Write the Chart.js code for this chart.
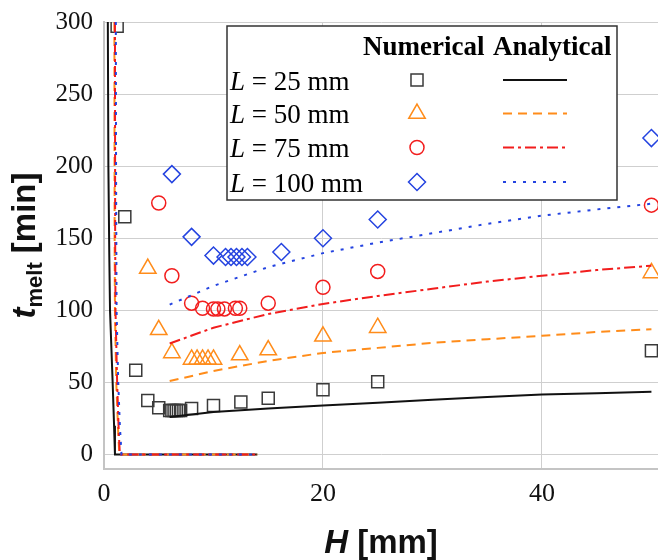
<!DOCTYPE html>
<html>
<head>
<meta charset="utf-8">
<script src="https://cdn.jsdelivr.net/npm/chart.js@4/dist/chart.umd.min.js"></script>
<style>
  html, body { margin: 0; padding: 0; background: #fff; }
  canvas { display: block; }
</style>
</head>
<body>
<canvas id="meltChart" width="658" height="560"></canvas>
<script>
// ==============================
// DATA
// ==============================
const xTicks = [0, 20, 40];
const yTicks = [0, 50, 100, 150, 200, 250, 300];

const lengthLabels = ["L = 25 mm", "L = 50 mm", "L = 75 mm", "L = 100 mm"];

// numerical results (markers)
const numH25 = [1.2, 1.9, 2.9, 4.0, 5.0, 6.0, 6.2, 6.4, 6.6, 6.8, 7.0, 8.0, 10, 12.5, 15, 20, 25, 50];
const numT25 = [297, 165, 58.5, 37.5, 32.5, 30.5, 30.5, 30.5, 30.5, 30.5, 30.5, 32, 34, 36.5, 39, 45, 50.5, 72];

const numH50 = [4.0, 5.0, 6.2, 8.0, 8.5, 9.0, 9.5, 10.0, 12.4, 15, 20, 25, 50];
const numT50 = [129, 86.5, 70.5, 66, 66, 66, 66, 66, 69, 72.5, 82, 88, 126];

const numH75 = [5.0, 6.2, 8.0, 9.0, 10.0, 10.4, 11.0, 12.0, 12.4, 15, 20, 25, 50];
const numT75 = [174.5, 124, 105, 101.5, 101, 101, 101, 101.5, 101.5, 105, 116, 127, 173];

const numH100 = [6.2, 8.0, 10.0, 11.1, 11.6, 12.1, 12.6, 13.1, 16.2, 20, 25, 50];
const numT100 = [194.5, 151, 138, 137, 137, 137, 137, 137, 140.5, 150, 163, 219.5];

// analytical results, part near the wall (steep drop to zero)
const wallH25 = [0.35, 0.4, 0.48, 0.55, 0.79, 0.92, 1.0, 14];
const wallT25 = [300, 200, 140, 100, 50, 20, 0, 0];
const wallH50 = [0.95, 0.97, 1.0, 1.12, 1.3, 1.4, 14];
const wallT50 = [300, 150, 100, 50, 15, 0, 0];
const wallH75 = [1.0, 1.02, 1.05, 1.2, 1.35, 1.45, 14];
const wallT75 = [300, 150, 100, 50, 15, 0, 0];
const wallH100 = [1.08, 1.1, 1.15, 1.3, 1.45, 1.6, 14];
const wallT100 = [300, 200, 100, 50, 20, 0, 0];

// analytical results, main branch
const curveH = [6, 10, 15, 20, 25, 30, 35, 40, 45, 50];
const curveT25 = [26, 29.5, 32, 34, 36, 38, 40, 41.6, 42.5, 43.5];
const curveT50 = [51, 58, 65, 70.5, 74, 77.5, 80, 82.4, 85, 87];
const curveT75 = [77, 88, 97.5, 104.5, 110, 115, 120, 124, 128, 131];
const curveT100 = [104, 117, 130, 139.7, 147, 153.5, 160, 165.7, 170, 174];

// ==============================
// STYLES
// ==============================
const colors = ["#3a3a3a", "#ff8c1a", "#f21d1d", "#2443e0"];
const lineColors = ["#111111", "#ff8c1a", "#f21d1d", "#2443e0"];
const markerStyles = ["rect", "triangle", "circle", "rectRot"];
const markerRadius = [8.5, 9.5, 7, 8.5];
const dashes = [[], [9, 6], [11, 4, 3, 4], [3, 7]];

const toPoints = (xs, ys) => xs.map((x, i) => ({ x: x, y: ys[i] }));

const numSets = [[numH25, numT25], [numH50, numT50], [numH75, numT75], [numH100, numT100]];
const wallSets = [[wallH25, wallT25], [wallH50, wallT50], [wallH75, wallT75], [wallH100, wallT100]];
const curveSets = [curveT25, curveT50, curveT75, curveT100];

const datasets = [];

// lines first so markers sit on top
for (let i = 3; i >= 0; i--) {
    const lineStyle = {
        showLine: true,
        pointRadius: 0,
        borderColor: lineColors[i],
        borderWidth: 2,
        borderDash: dashes[i],
        tension: 0,
        fill: false
    };
    datasets.push(Object.assign({ data: toPoints(wallSets[i][0], wallSets[i][1]) }, lineStyle));
    datasets.push(Object.assign({ data: toPoints(curveH, curveSets[i]) }, lineStyle));
}

for (let i = 0; i < 4; i++) {
    datasets.push({
        data: toPoints(numSets[i][0], numSets[i][1]),
        showLine: false,
        pointStyle: markerStyles[i],
        pointRadius: markerRadius[i],
        pointBorderWidth: 1.5,
        pointBorderColor: colors[i],
        pointBackgroundColor: "rgba(0,0,0,0)"
    });
}

// ==============================
// TITLES + TABLE LEGEND
// ==============================
const decorations = {
    id: "decorations",
    afterDraw(chart) {
        const ctx = chart.ctx;
        const area = chart.chartArea;
        ctx.save();
        ctx.fillStyle = "#111";
        ctx.textBaseline = "alphabetic";

        // x title: H [mm]
        const fIt = "italic bold 33px 'Liberation Sans', Arial, sans-serif";
        const fB = "bold 33px 'Liberation Sans', Arial, sans-serif";
        ctx.font = fIt;
        const wH = ctx.measureText("H").width;
        ctx.font = fB;
        const wMm = ctx.measureText(" [mm]").width;
        let x0 = (area.left + area.right) / 2 - (wH + wMm) / 2;
        ctx.textAlign = "left";
        ctx.font = fIt;
        ctx.fillText("H", x0, 553);
        ctx.font = fB;
        ctx.fillText(" [mm]", x0 + wH, 553);

        // y title: t_melt [min]
        const fSub = "bold 22px 'Liberation Sans', Arial, sans-serif";
        ctx.font = fIt;
        const wT = ctx.measureText("t").width;
        ctx.font = fSub;
        const wSub = ctx.measureText("melt").width;
        ctx.font = fB;
        const wMin = ctx.measureText(" [min]").width;
        const total = wT + wSub + wMin;
        ctx.translate(35, (area.top + area.bottom) / 2);
        ctx.rotate(-Math.PI / 2);
        let tx = -total / 2;
        ctx.font = fIt;
        ctx.fillText("t", tx, 0);
        tx += wT;
        ctx.font = fSub;
        ctx.fillText("melt", tx, 7);
        tx += wSub;
        ctx.font = fB;
        ctx.fillText(" [min]", tx, 0);
        ctx.restore();

        // legend box
        ctx.save();
        const bx = 227, by = 26, bw = 390, bh = 174;
        ctx.fillStyle = "#fff";
        ctx.fillRect(bx, by, bw, bh);
        ctx.strokeStyle = "#333";
        ctx.lineWidth = 1.5;
        ctx.strokeRect(bx, by, bw, bh);

        ctx.fillStyle = "#000";
        ctx.textAlign = "left";
        ctx.font = "bold 27px 'Liberation Serif', 'Times New Roman', serif";
        ctx.fillText("Numerical", 363, 55);
        ctx.fillText("Analytical", 493, 55);

        const rowY = [80, 113.5, 147.5, 182];
        for (let i = 0; i < 4; i++) {
            const base = rowY[i] + 9.5;
            ctx.fillStyle = "#000";
            ctx.font = "italic 27px 'Liberation Serif', 'Times New Roman', serif";
            ctx.fillText("L", 230, base);
            const wL = ctx.measureText("L").width;
            ctx.font = "27px 'Liberation Serif', 'Times New Roman', serif";
            ctx.fillText(lengthLabels[i].slice(1), 230 + wL, base);

            // hollow marker
            ctx.fillStyle = "rgba(0,0,0,0)";
            ctx.strokeStyle = colors[i];
            ctx.lineWidth = 1.5;
            ctx.setLineDash([]);
            Chart.helpers.drawPoint(ctx, {
                pointStyle: markerStyles[i],
                radius: markerRadius[i],
                rotation: 0,
                borderWidth: 1.5
            }, 417, rowY[i]);

            ctx.strokeStyle = lineColors[i];
            ctx.lineWidth = 2;
            ctx.setLineDash(dashes[i]);
            ctx.beginPath();
            ctx.moveTo(503, rowY[i]);
            ctx.lineTo(567, rowY[i]);
            ctx.stroke();
        }
        ctx.restore();
    }
};

// ==============================
// CHART
// ==============================
const gridColor = "#cfcfcf";

new Chart(document.getElementById("meltChart"), {
    type: "scatter",
    data: { datasets },
    options: {
        responsive: false,
        animation: false,
        layout: {
            autoPadding: false,
            padding: { top: 22, right: 0, left: 0, bottom: 0 }
        },
        plugins: {
            legend: { display: false },
            tooltip: { enabled: false }
        },
        scales: {
            x: {
                type: "linear",
                min: 0,
                max: 50.6,
                afterBuildTicks: (s) => { s.ticks = xTicks.map(v => ({ value: v })); },
                afterFit: (s) => {
                    s.height = 91;
                    s.paddingLeft = 0;
                    s.paddingRight = 0;
                },
                grid: { color: gridColor, drawTicks: false },
                border: { color: "#c4c4c4", width: 2 },
                ticks: {
                    color: "#111",
                    padding: 10,
                    maxRotation: 0,
                    font: { family: "'Liberation Serif', 'Times New Roman', serif", size: 26 }
                }
            },
            y: {
                type: "linear",
                min: -10,
                max: 300,
                afterBuildTicks: (s) => { s.ticks = yTicks.map(v => ({ value: v })); },
                afterFit: (s) => {
                    s.width = 104;
                    s.paddingTop = 0;
                    s.paddingBottom = 0;
                },
                grid: { color: gridColor, drawTicks: false },
                border: { color: "#c4c4c4", width: 2 },
                ticks: {
                    color: "#111",
                    padding: 11,
                    font: { family: "'Liberation Serif', 'Times New Roman', serif", size: 25 }
                }
            }
        }
    },
    plugins: [decorations]
});
</script>
</body>
</html>
